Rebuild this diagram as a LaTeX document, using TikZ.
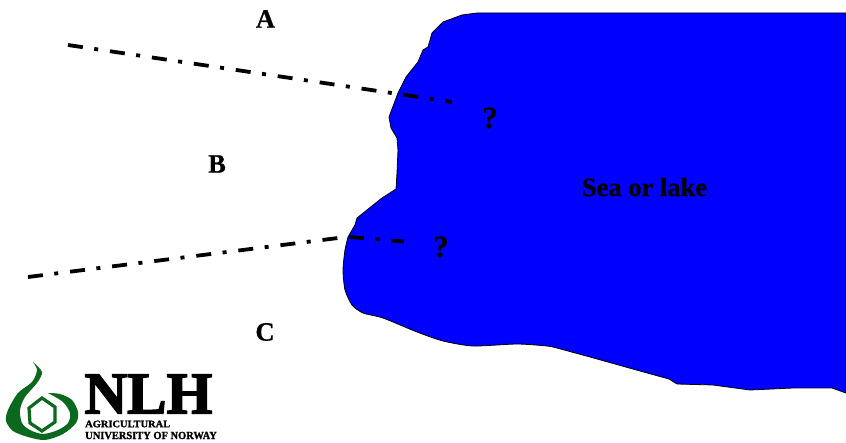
\documentclass[tikz,border=0pt]{standalone}
\usepackage{fontspec}
\usepackage{graphicx}
\setmainfont{Liberation Serif}[BoldFeatures={FakeBold=0.6}]
\newfontfamily\logofont{Liberation Serif}[BoldFeatures={FakeBold=2.5}]
\newfontfamily\smalllogofont{Liberation Serif}[BoldFeatures={FakeBold=1.5}]
\definecolor{seablue}{RGB}{0,0,255}
\definecolor{logogreen}{RGB}{10,105,30}
\tikzset{
    zone/.style={font=\fontsize{26.5}{26.5}\selectfont\bfseries, inner sep=0pt},
    query/.style={font=\fontsize{31}{31}\selectfont\bfseries, inner sep=0pt},
    logotext/.style={inner sep=0pt, anchor=west, font=\smalllogofont\fontsize{11}{11}\selectfont\bfseries},
    fault/.style={line width=3.8pt, dash pattern=on 15pt off 11.5pt on 4pt off 11.9pt},
}

\begin{document}
\begin{tikzpicture}[x=1pt, y=-1pt]
    \useasboundingbox (0,0) rectangle (846,443);

    % Water
    \draw[fill=seablue, line width=0.8pt] (846,13) -- (477,13) -- (462,15) -- (443,22) -- (432,33) -- (428,47) -- (423,50) -- (418,62) -- (406,77) -- (398,93) -- (389,117) -- (391,128) -- (397,138) -- (398,150) -- (397,173) -- (396,189) -- (382,198) -- (357,218) -- (355,225)
        -- plot[smooth, tension=0.4] coordinates {(348,237) (345,250) (343,270) (345,290) (352,305) (363,313) (383,318) (417,332) (443,341) (473,346) (517,344) (547,346) (557,348)}
        -- (590,357) -- (640,371) -- (669,379) -- (677,384) -- (713,385) -- (750,390) -- (793,388) -- (832,388) -- (846,393) -- cycle;

    % Fault lines
    \coordinate (a start) at (68,45);
    \coordinate (a end) at (452,102);
    \coordinate (c start) at (28,277);
    \coordinate (c coast) at (338,238);
    \coordinate (c sea) at (349,237);
    \coordinate (c end) at (404,241.5);
    \draw[fault] (a start) -- (a end);
    \draw[fault] (c start) -- (c coast);
    \draw[fault] (c sea) -- (c end);

    % Labels
    \node (zone a) at (265.5,19) [zone] {A};
    \node (zone b) at (217,164) [zone] {B};
    \node (zone c) at (265,332) [zone] {C};
    \node (query a) at (490,118) [query] {?};
    \node (query c) at (441,247) [query] {?};
    \node (sea) at (644.5,187) [zone] {Sea or lake};

    % Logo
    \fill[logogreen] plot[smooth, tension=0.5] coordinates {(33,362) (37,370) (32,382) (18,393) (8,410) (6,421) (13,431) (28,437) (45,440) (63,434) (76,423) (78,412) (72,400) (60,394) (48,393)}
        -- plot[smooth, tension=0.5] coordinates {(48,393) (63,402) (70,413) (68,423) (58,430) (43,434) (30,430) (22,423) (20,410) (25,397) (37,383) (42,372) (33,362)} -- cycle;
    \draw[logogreen, line width=3.2pt, line join=miter] (42,398) -- (55,407) -- (55,422) -- (42,431) -- (30,423) -- (29,408) -- cycle;
    \node (logo name) at (148.5,394) [inner sep=0pt, font=\logofont\fontsize{59}{59}\selectfont\bfseries] {NLH};
    \node (logo college) at (85,424) [logotext] {\scalebox{0.95}[0.9]{AGRICULTURAL}};
    \node (logo country) at (85,435.5) [logotext] {\scalebox{0.95}[1]{UNIVERSITY OF NORWAY}};
\end{tikzpicture}
\end{document}
